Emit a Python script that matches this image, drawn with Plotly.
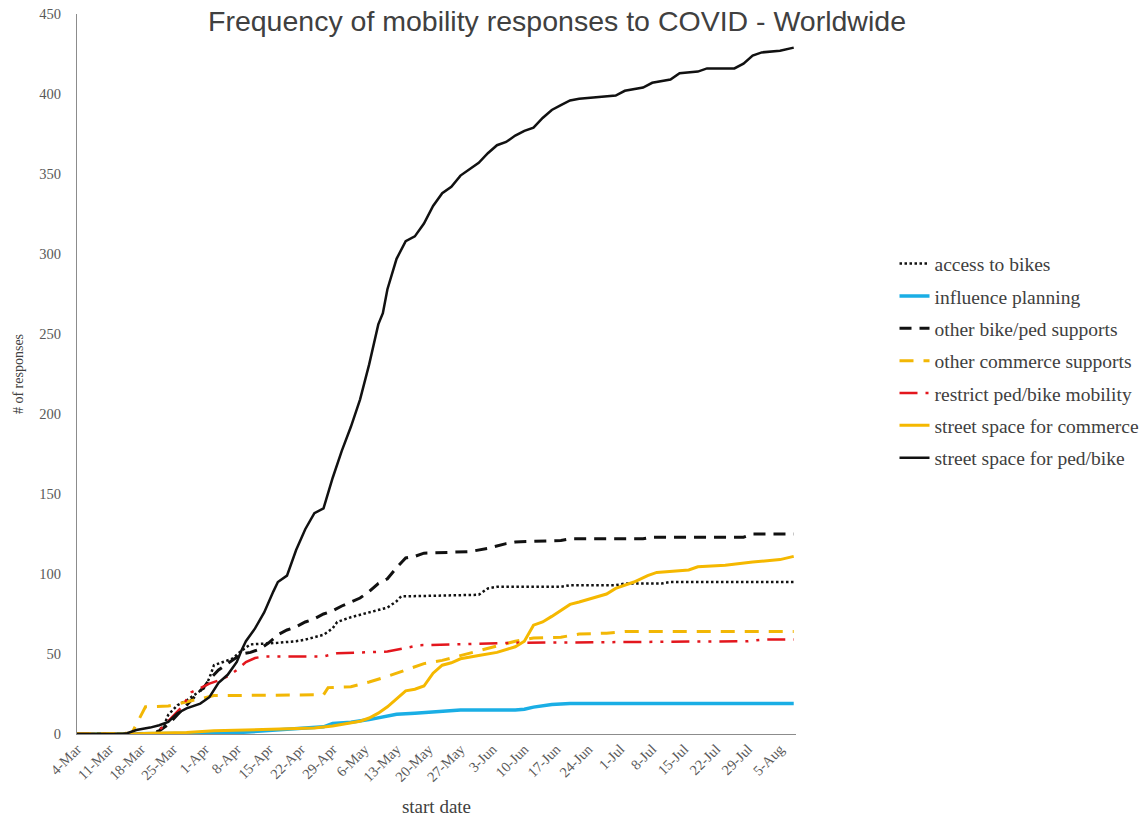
import pandas as pd
import plotly.graph_objects as go

START = pd.Timestamp("2020-03-04")

# day offsets from 4-Mar-2020 and cumulative counts, per series
access_bikes_days = [0, 17, 19, 20, 22, 24, 26, 28, 29, 30, 32, 34, 36, 38, 44, 48, 50, 54, 56, 57, 60, 64, 68, 70, 71, 88, 90, 92, 106, 108, 118, 120, 128, 130, 157]
access_bikes_vals = [0, 0, 5, 12, 18, 21, 25, 29, 35, 43, 45, 47, 52, 56, 57, 58, 59, 62, 66, 70, 73, 76, 79, 83, 86, 87, 91, 92, 92, 93, 93, 94, 94, 95, 95]

influence_days = [0, 26, 30, 36, 42, 46, 50, 54, 56, 60, 64, 68, 70, 74, 78, 80, 84, 96, 98, 100, 104, 108, 157]
influence_vals = [0, 0, 0.5, 1, 2, 3, 3.5, 4.5, 6.5, 7.3, 9, 11, 12.3, 13, 13.8, 14.5, 15, 15, 15.5, 16.8, 18.5, 19, 19]

other_bikeped_days = [0, 16, 18, 20, 22, 24, 26, 28, 29, 31, 33, 35, 36, 38, 40, 42, 44, 46, 48, 50, 52, 54, 56, 58, 62, 64, 66, 68, 70, 72, 74, 76, 86, 90, 94, 96, 106, 108, 124, 126, 146, 148, 157]
other_bikeped_vals = [0, 0, 2, 6, 12, 18, 24, 30, 34, 40, 44, 48, 50, 51, 53, 57, 62, 65, 67, 70, 72, 75, 77, 80, 85, 89, 94, 97, 104, 110, 111, 113, 114, 116, 119, 120, 121, 122, 122, 123, 123, 125, 125]

other_commerce_days = [0, 12, 13, 14, 15, 20, 24, 27, 30, 54, 55, 60, 64, 68, 72, 76, 80, 84, 88, 92, 96, 100, 106, 110, 116, 120, 157]
other_commerce_vals = [0, 0.5, 6, 12, 17, 17.5, 20, 22, 24, 24.5, 29, 29.5, 32.5, 36, 40, 44, 46, 49, 52, 55, 58, 60, 60.5, 62.5, 63, 64, 64]

restrict_days = [0, 17, 19, 21, 23, 25, 27, 29, 31, 33, 35, 37, 39, 41, 54, 57, 68, 72, 75, 96, 137, 147, 150, 157]
restrict_vals = [0, 0, 5, 11, 17, 26, 29, 31.5, 33.5, 36, 40, 45, 47.5, 48.5, 48.5, 50.5, 51.5, 54, 55.5, 57, 57.5, 58, 59, 59]

commerce_space_days = [0, 12, 16, 24, 30, 36, 42, 52, 56, 60, 62, 64, 66, 68, 70, 72, 74, 76, 78, 80, 82, 84, 88, 92, 96, 98, 100, 102, 104, 106, 108, 110, 114, 116, 118, 122, 125, 127, 134, 136, 142, 148, 154, 157]
commerce_space_vals = [0, 0, 0.5, 1, 2, 2.5, 3, 3.7, 5, 7, 8, 10, 13, 17, 22, 27, 28, 30, 38, 43, 44.5, 47, 49, 51, 54.5, 58, 68, 70, 73.5, 77, 81, 82.5, 86, 87.5, 91, 95, 99, 101, 102.5, 104.5, 105.5, 107.5, 109, 111]

pedbike_space_days = [0, 10, 11, 13, 16, 18, 20, 22, 24, 27, 29, 31, 33, 35, 36, 37, 39, 41, 43, 44, 46, 48, 50, 52, 54, 56, 58, 60, 62, 64, 66, 67, 68, 70, 72, 74, 76, 78, 80, 82, 84, 86, 88, 90, 92, 94, 96, 98, 100, 102, 104, 106, 108, 110, 114, 118, 120, 124, 126, 130, 132, 136, 138, 144, 146, 148, 150, 154, 157]
pedbike_space_vals = [0, 0, 0.5, 2.5, 4, 5.5, 7.5, 13, 16, 19, 23, 32, 37, 45, 52, 58, 66, 76, 89, 95, 99, 115, 128, 138, 141, 160, 177, 192, 209, 231, 256, 263, 278, 297, 308, 311, 319, 330, 338, 342, 349, 353, 357, 363, 368, 370, 374, 377, 379, 385, 390, 393, 396, 397, 398, 399, 402, 404, 407, 409, 413, 414, 416, 416, 419, 424, 426, 427, 429]

tick_labels = ["4-Mar", "11-Mar", "18-Mar", "25-Mar", "1-Apr", "8-Apr", "15-Apr", "22-Apr", "29-Apr",
               "6-May", "13-May", "20-May", "27-May", "3-Jun", "10-Jun", "17-Jun", "24-Jun", "1-Jul",
               "8-Jul", "15-Jul", "22-Jul", "29-Jul", "5-Aug"]


def to_dates(days):
    return [START + pd.Timedelta(days=d) for d in days]


series = [
    ("access to bikes", access_bikes_days, access_bikes_vals, dict(color="#111111", width=2.5, dash="2.5px,2.5px")),
    ("influence planning", influence_days, influence_vals, dict(color="#1aaee5", width=3.5)),
    ("other bike/ped supports", other_bikeped_days, other_bikeped_vals, dict(color="#111111", width=3, dash="12px,8px")),
    ("other commerce supports", other_commerce_days, other_commerce_vals, dict(color="#f2b705", width=3, dash="14px,10px")),
    ("restrict ped/bike mobility", restrict_days, restrict_vals, dict(color="#e3161d", width=2.5, dash="18px,8px,3px,8px,3px,8px")),
    ("street space for commerce", commerce_space_days, commerce_space_vals, dict(color="#f5b800", width=3)),
    ("street space for ped/bike", pedbike_space_days, pedbike_space_vals, dict(color="#111111", width=2.5)),
]

fig = go.Figure()
for i, (name, days, vals, line) in enumerate(series):
    fig.add_trace(go.Scatter(x=to_dates(days), y=vals, mode="lines", name=name,
                             line=line, legendgroup=f"g{i}"))

tick_vals = [START + pd.Timedelta(days=7 * i) for i in range(len(tick_labels))]

W, H = 1147, 817
serif = "Liberation Serif, Times New Roman, serif"
fig.update_layout(
    width=W, height=H,
    paper_bgcolor="white", plot_bgcolor="white",
    margin=dict(l=77, r=W - 77 - 719, t=14, b=H - 14 - 720, autoexpand=False),
    title=dict(text="Frequency of mobility responses to COVID - Worldwide",
               x=557 / W, xanchor="center", y=1 - 21 / H, yanchor="middle", yref="container",
               font=dict(family="Liberation Sans, Arial, sans-serif", size=28.5, color="#404040")),
    showlegend=True,
    legend=dict(x=1.137, xanchor="left", y=0.68, yanchor="top",
                font=dict(family=serif, size=19.5, color="#404040"),
                traceorder="grouped", tracegroupgap=4, bgcolor="rgba(0,0,0,0)"),
    xaxis=dict(type="date", range=[START, START + pd.Timedelta(days=157.5)],
               tickvals=tick_vals, ticktext=tick_labels, tickangle=-45,
               tickfont=dict(family=serif, size=14.5, color="#595959"),
               showline=True, linecolor="#8c8c8c", linewidth=1, ticks="",
               showgrid=False, zeroline=False, ticklabeloverflow="allow",
               title=dict(text="start date", font=dict(family=serif, size=19, color="#404040"), standoff=20)),
    yaxis=dict(range=[0, 450], dtick=50, tick0=0,
               tickfont=dict(family=serif, size=14.5, color="#595959"),
               showline=True, linecolor="#8c8c8c", linewidth=1, ticks="",
               showgrid=False, zeroline=False, ticklabelstandoff=12, ticklabeloverflow="allow",
               title=dict(text="# of responses", font=dict(family=serif, size=14, color="#404040"), standoff=12)),
)

# remove the browser's default 8px body margin so the figure fills the window
fig.write_html("out.html", config={"displayModeBar": False},
               post_script="document.body.style.margin='0';")
